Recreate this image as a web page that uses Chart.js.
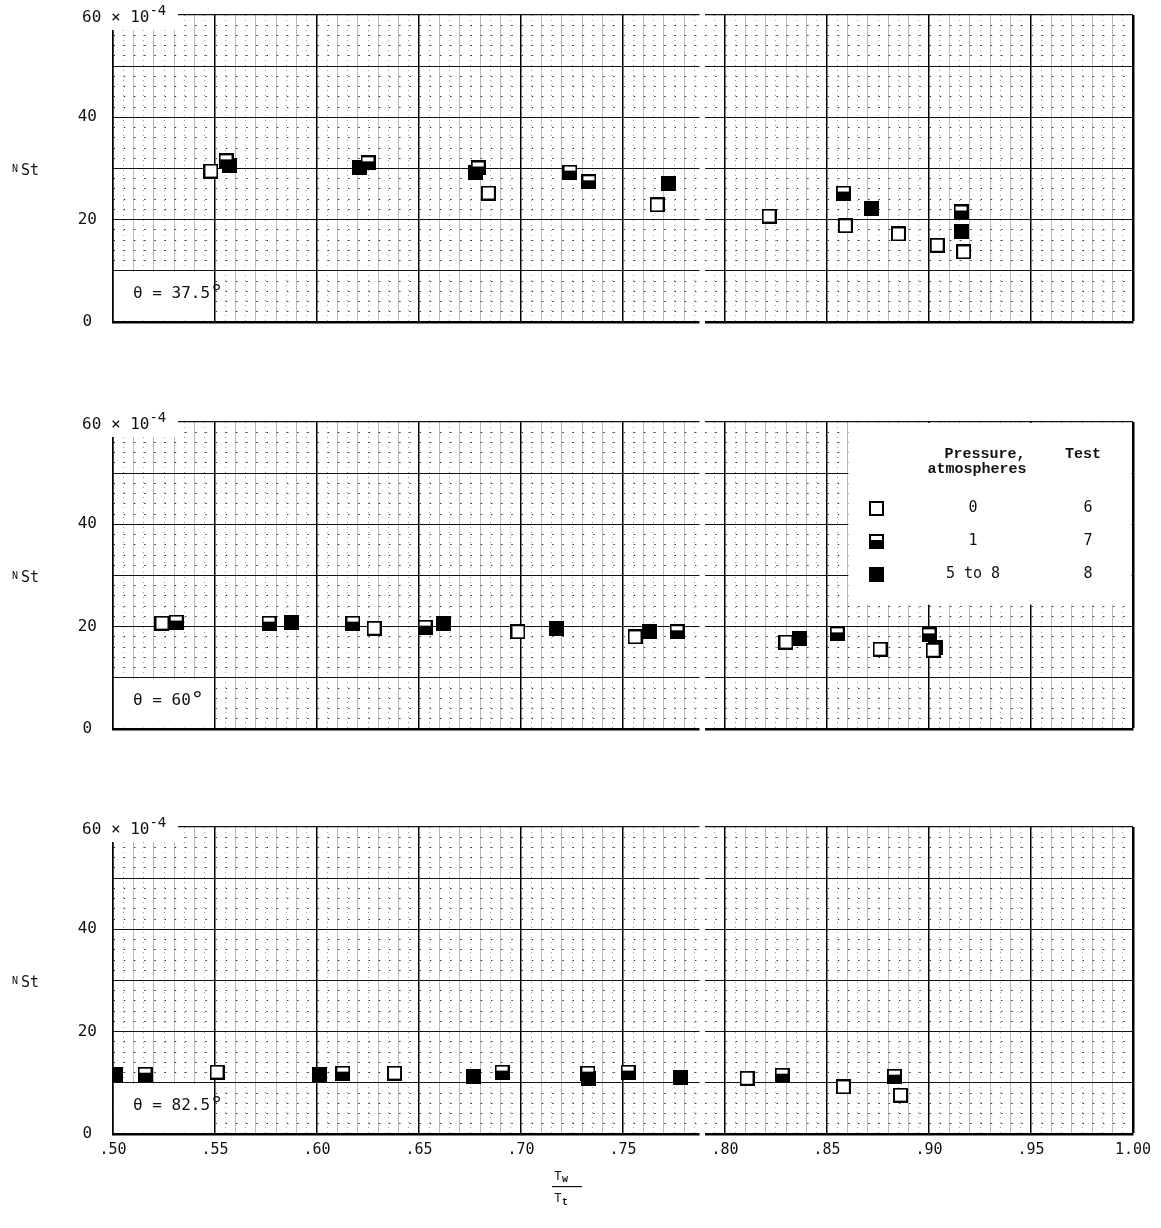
<!DOCTYPE html>
<html>
<head>
<meta charset="utf-8">
<script src="https://cdn.jsdelivr.net/npm/chart.js@4.4.0/dist/chart.umd.min.js"></script>
<style>
  body { margin: 0; background: #fff; }
  .panel { position: absolute; left: 0; width: 1161px; }
</style>
</head>
<body>
<div class="panel" style="top:0;height:340px"><canvas id="chart375"></canvas></div>
<div class="panel" style="top:407px;height:340px"><canvas id="chart60"></canvas></div>
<div class="panel" style="top:812px;height:416px"><canvas id="chart825"></canvas></div>
<script>
// tick labels
var xTickLabels = ['.50', '.55', '.60', '.65', '.70', '.75', '.80', '.85', '.90', '.95', '1.00'];
var yTickLabels = ['0', '20', '40'];
var yTopLabel = '60 × 10';
var yTopExp = '-4';
var panelAngles = ['37.5', '60', '82.5'];
var legendPressure = ['0', '1', '5 to 8'];
var legendTest = ['6', '7', '8'];

// theta = 37.5  (x = Tw/Tt, y = NSt x 10^4)
var open375 = [[0.548, 29.5], [0.684, 25.2], [0.7667, 22.9], [0.8216, 20.7], [0.859, 18.8], [0.885, 17.2], [0.904, 15.0], [0.917, 13.7]];
var half375 = [[0.5554, 31.5], [0.625, 31.1], [0.679, 30.1], [0.724, 29.3], [0.7333, 27.4], [0.858, 25.2], [0.9157, 21.5]];
var full375 = [[0.5569, 30.5], [0.621, 30.1], [0.6775, 29.3], [0.7725, 27.0], [0.872, 22.1], [0.9157, 17.6]];

// theta = 60
var open60 = [[0.524, 20.7], [0.628, 19.7], [0.6985, 19.0], [0.7559, 18.0], [0.8299, 17.0], [0.876, 15.6], [0.902, 15.4]];
var half60 = [[0.531, 20.9], [0.5765, 20.7], [0.6176, 20.7], [0.653, 19.9], [0.7765, 19.0], [0.855, 18.6], [0.900, 18.4]];
var full60 = [[0.5877, 20.9], [0.6618, 20.7], [0.7176, 19.7], [0.7632, 19.0], [0.8363, 17.6], [0.9034, 16.0]];

// theta = 82.5
var open825 = [[0.551, 12.1], [0.638, 11.9], [0.8108, 10.9], [0.858, 9.2], [0.886, 7.6]];
var half825 = [[0.5157, 11.7], [0.6127, 11.9], [0.6907, 12.1], [0.7328, 11.9], [0.7525, 12.1], [0.828, 11.5], [0.883, 11.3]];
var full825 = [[0.501, 11.7], [0.601, 11.7], [0.6765, 11.3], [0.733, 10.9], [0.778, 11.1]];

var monoFont = '"DejaVu Sans Mono", monospace';
var typeFont = '"Liberation Mono", "Courier New", monospace';

// square symbols: open, half filled, filled
function makeSymbol(kind) {
  var c = document.createElement('canvas');
  c.width = 15; c.height = 15;
  var g = c.getContext('2d');
  g.fillStyle = '#fff';
  g.fillRect(0, 0, 15, 15);
  g.fillStyle = '#000';
  if (kind === 'full') g.fillRect(0, 0, 15, 15);
  if (kind === 'half') g.fillRect(0, 6, 15, 9);
  g.lineWidth = 2;
  g.strokeStyle = '#000';
  g.strokeRect(1, 1, 13, 13);
  return c;
}
var symbols = [makeSymbol('open'), makeSymbol('half'), makeSymbol('full')];

function toPoints(arr) {
  return arr.map(function (p) { return { x: p[0], y: p[1] }; });
}

// grid look, graph paper style
function xKey(c) { return c.tick ? Math.round(c.tick.value * 1000) : -1; }
function yKey(c) { return c.tick ? Math.round(c.tick.value) : -1; }

var decoration = {
  id: 'decoration',
  beforeDatasetsDraw: function (chart, args, opts) {
    var ctx = chart.ctx, a = chart.chartArea, sx = chart.scales.x, sy = chart.scales.y;
    ctx.save();
    ctx.fillStyle = '#fff';
    // break between the two sheets
    var g1 = sx.getPixelForValue(0.7875), g2 = sx.getPixelForValue(0.7902);
    ctx.fillRect(g1, a.top - 3, g2 - g1, a.bottom - a.top + 6);
    // angle box
    var bx1 = sx.getPixelForValue(0.5), bx2 = sx.getPixelForValue(0.55);
    var by1 = sy.getPixelForValue(10), by2 = sy.getPixelForValue(0);
    ctx.fillRect(bx1 + 1, by1 + 1, bx2 - bx1 - 2, by2 - by1 - 2.5);
    ctx.fillStyle = '#111';
    ctx.font = '16px ' + monoFont;
    ctx.textAlign = 'left';
    ctx.textBaseline = 'alphabetic';
    var txt = 'θ = ' + opts.angle;
    ctx.fillText(txt, a.left + 20, a.bottom - 24);
    var w = ctx.measureText(txt).width;
    ctx.font = '22px ' + monoFont;
    ctx.fillText('°', a.left + 20 + w, a.bottom - 22);
    // legend
    if (opts.legend) {
      var lx1 = sx.getPixelForValue(0.86), lx2 = sx.getPixelForValue(1.0);
      var ly1 = sy.getPixelForValue(60), ly2 = sy.getPixelForValue(24.5);
      ctx.fillStyle = '#fff';
      ctx.fillRect(lx1 + 1, ly1 + 1, lx2 - lx1 - 2.5, ly2 - ly1);
      ctx.fillStyle = '#111';
      ctx.font = 'bold 15px ' + typeFont;
      ctx.textAlign = 'center';
      ctx.fillText('Pressure,', a.left + 872, a.top + 36);
      ctx.fillText('atmospheres', a.left + 864, a.top + 51);
      ctx.fillText('Test', a.left + 970, a.top + 36);
      ctx.font = '15px ' + monoFont;
      ctx.textBaseline = 'middle';
      for (var i = 0; i < 3; i++) {
        var yy = a.top + 86 + i * 33;
        ctx.drawImage(symbols[i], a.left + 756, yy - 7);
        ctx.fillText(legendPressure[i], a.left + 860, yy);
        ctx.fillText(legendTest[i], a.left + 975, yy);
      }
    }
    ctx.restore();
  },
  afterDraw: function (chart, args, opts) {
    var ctx = chart.ctx, a = chart.chartArea, sy = chart.scales.y;
    ctx.save();
    // 60 x 10^-4 label over the corner
    ctx.fillStyle = '#fff';
    ctx.fillRect(a.left - 2, a.top - 12, 67, 27);
    ctx.fillStyle = '#111';
    ctx.textAlign = 'left';
    ctx.textBaseline = 'alphabetic';
    ctx.font = '16px ' + monoFont;
    ctx.fillText(yTopLabel, a.left - 31, a.top + 7);
    var w = ctx.measureText(yTopLabel).width;
    ctx.font = '14px ' + monoFont;
    ctx.fillText(yTopExp, a.left - 31 + w, a.top);
    // N_St
    var ny = sy.getPixelForValue(30);
    ctx.font = '10px ' + monoFont;
    ctx.fillText('N', 12, ny + 3.5);
    ctx.font = '15px ' + monoFont;
    ctx.fillText('St', 21, ny + 6.5);
    // Tw / Tt
    if (opts.fraction) {
      var fx = a.left + 454, fy = a.bottom;
      ctx.font = '13px ' + typeFont;
      ctx.fillText('T', fx - 13, fy + 46);
      ctx.fillText('T', fx - 13, fy + 68);
      ctx.font = 'bold 10px ' + typeFont;
      ctx.fillText('w', fx - 5, fy + 48);
      ctx.fillText('t', fx - 5, fy + 71);
      ctx.fillRect(fx - 15, fy + 52, 30, 1.2);
    }
    ctx.restore();
  }
};

function makeChart(id, openData, halfData, fullData, angle, isBottom, hasLegend) {
  return new Chart(document.getElementById(id), {
    type: 'scatter',
    data: {
      datasets: [
        { label: '0', data: toPoints(openData), pointStyle: symbols[0], pointRadius: 7 },
        { label: '1', data: toPoints(halfData), pointStyle: symbols[1], pointRadius: 7 },
        { label: '5 to 8', data: toPoints(fullData), pointStyle: symbols[2], pointRadius: 7 }
      ]
    },
    options: {
      responsive: true,
      maintainAspectRatio: false,
      animation: false,
      layout: { padding: { left: 0, right: 28, top: 15, bottom: isBottom ? 0 : 18 } },
      plugins: {
        legend: { display: false },
        tooltip: { enabled: false },
        decoration: { angle: angle, legend: hasLegend, fraction: isBottom }
      },
      scales: {
        x: {
          type: 'linear',
          min: 0.5,
          max: 1.0,
          afterFit: function (s) {
            s.height = isBottom ? 94 : 0;
            s.paddingLeft = 0; s.paddingRight = 0;
          },
          ticks: {
            display: isBottom,
            stepSize: 0.005,
            autoSkip: false,
            maxRotation: 0,
            padding: 7,
            color: '#111',
            font: { family: monoFont, size: 15 },
            callback: function (v) {
              var k = Math.round(v * 1000);
              if (k % 50 !== 0) return '';
              return xTickLabels[(k - 500) / 50];
            }
          },
          grid: {
            drawTicks: false,
            color: function (c) {
              var k = xKey(c);
              if (k % 50 === 0) return '#000';
              if (k % 10 === 0) return '#9a9a9a';
              return '#777';
            },
            lineWidth: function (c) {
              var k = xKey(c);
              if (k === 1000) return 2.5;
              if (k % 50 === 0) return 1.5;
              return 0.7;
            }
          },
          border: {
            color: '#000',
            width: 2.5,
            dash: function (c) {
              var k = xKey(c);
              if (k < 0 || k % 10 === 0) return [];
              return [1, 4];
            }
          }
        },
        y: {
          min: 0,
          max: 60,
          afterFit: function (s) {
            s.width = 113;
            s.paddingTop = 0; s.paddingBottom = 0;
          },
          ticks: {
            stepSize: 2,
            autoSkip: false,
            crossAlign: 'center',
            padding: 16,
            color: '#111',
            font: { family: monoFont, size: 16 },
            callback: function (v) {
              var k = Math.round(v);
              if (k % 20 === 0 && k < 60) return yTickLabels[k / 20];
              return '';
            }
          },
          grid: {
            drawTicks: false,
            color: function (c) {
              var k = yKey(c);
              if (k % 10 === 0) return '#111';
              return '#333';
            },
            lineWidth: function (c) {
              var k = yKey(c);
              if (k === 60) return 1.2;
              if (k % 10 === 0) return 1;
              return 1;
            }
          },
          border: {
            color: '#000',
            width: 1.5,
            dash: function (c) {
              var k = yKey(c);
              if (k < 0 || k % 10 === 0) return [];
              return [1.5, 8.7];
            }
          }
        }
      }
    },
    plugins: [decoration]
  });
}

makeChart('chart375', open375, half375, full375, panelAngles[0], false, false);
makeChart('chart60', open60, half60, full60, panelAngles[1], false, true);
makeChart('chart825', open825, half825, full825, panelAngles[2], true, false);
</script>
</body>
</html>
